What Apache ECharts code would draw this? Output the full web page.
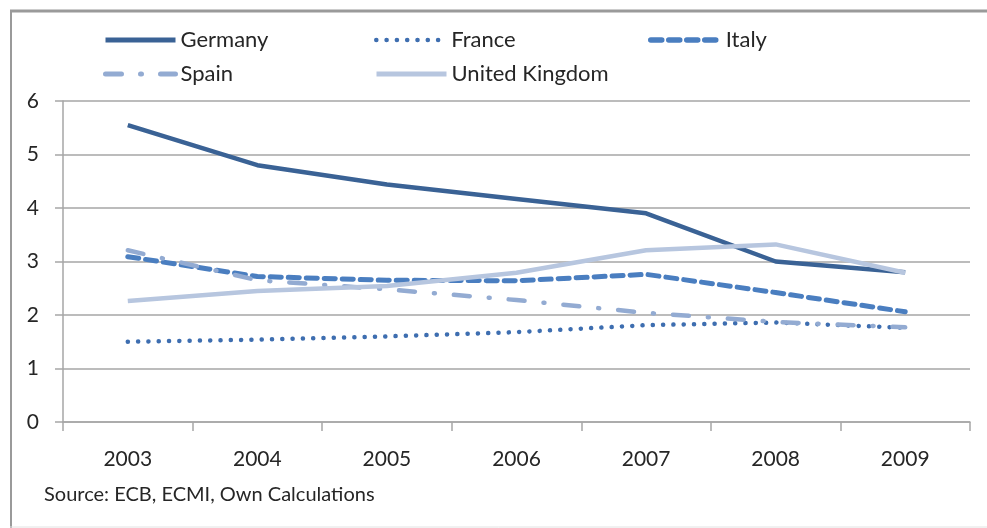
<!DOCTYPE html>
<html>
<head>
<meta charset="utf-8">
<script src="https://cdn.jsdelivr.net/npm/echarts@6/dist/echarts.min.js"></script>
<style>
  html, body { margin: 0; padding: 0; background: #fff; }
  #chart { width: 987px; height: 528px; }
</style>
</head>
<body>
<div id="chart"></div>
<script>
const years = ["2003", "2004", "2005", "2006", "2007", "2008", "2009"];
const germany = [5.55, 4.8, 4.44, 4.17, 3.9, 3.0, 2.8];
const france = [1.5, 1.54, 1.6, 1.68, 1.81, 1.86, 1.76];
const italy = [3.09, 2.72, 2.65, 2.64, 2.76, 2.42, 2.06];
const spain = [3.21, 2.65, 2.48, 2.28, 2.04, 1.87, 1.77];
const uk = [2.26, 2.45, 2.54, 2.79, 3.21, 3.32, 2.79];

const font = "Lato";
const gridColor = "#a6a6a6";

// one legend per entry so each can sit where the original puts it
const legendAt = (name, left, top, width) => ({
  data: [name],
  left: left,
  top: top,
  padding: 0,
  itemWidth: 70,
  itemHeight: 14,
  itemGap: 0,
  itemStyle: { opacity: 0 },
  lineStyle: { width: width },
  textStyle: { fontFamily: font, fontSize: 22, color: "#262626" },
  selectedMode: false,
});

const line = (name, data, color, width, type, cap) => ({
  name: name,
  type: "line",
  data: data,
  symbol: "none",
  showSymbol: false,
  lineStyle: { color: color, width: width, type: type, cap: cap || "butt" },
  itemStyle: { color: color },
});

const chart = echarts.init(document.getElementById("chart"));
chart.setOption({
  animation: false,
  backgroundColor: "#fff",
  legend: [
    legendAt("Germany", 103, 29, 5),
    legendAt("France", 374, 29, 4.5),
    legendAt("Italy", 648, 29, 5.5),
    legendAt("Spain", 103, 63, 5),
    legendAt("United Kingdom", 374, 63, 5),
  ],
  grid: { left: 63, right: 17, top: 101, bottom: 106 },
  xAxis: {
    type: "category",
    data: years,
    boundaryGap: true,
    axisLine: { lineStyle: { color: gridColor, width: 1.5 } },
    axisTick: { show: true, length: 9, lineStyle: { color: gridColor, width: 1.5 } },
    axisLabel: { fontFamily: font, fontSize: 21, color: "#262626", margin: 27 },
  },
  yAxis: {
    type: "value",
    min: 0,
    max: 6,
    interval: 1,
    axisLine: { show: true, lineStyle: { color: gridColor, width: 1.5 } },
    axisTick: { show: true, length: 8, lineStyle: { color: gridColor, width: 1.5 } },
    axisLabel: { fontFamily: font, fontSize: 21, color: "#262626", margin: 24 },
    splitLine: { lineStyle: { color: gridColor, width: 1.5 } },
  },
  series: [
    line("Germany", germany, "#3a6295", 4.5),
    line("France", france, "#3e6eb0", 4.5, [0.1, 10.2], "round"),
    line("Italy", italy, "#4a7ec0", 5, [11, 7], "round"),
    line("Spain", spain, "#93abd2", 4.5, [16, 19, 1, 19], "round"),
    line("United Kingdom", uk, "#b7c6df", 4.5),
  ],
  graphic: [
    { type: "line", shape: { x1: 10, y1: 11, x2: 987, y2: 11 }, style: { stroke: "#9a9a9a", lineWidth: 3 } },
    { type: "line", shape: { x1: 11, y1: 10, x2: 11, y2: 528 }, style: { stroke: "#9a9a9a", lineWidth: 2 } },
    { type: "line", shape: { x1: 10, y1: 527, x2: 987, y2: 527 }, style: { stroke: "#e2e2e2", lineWidth: 1 } },
    {
      type: "text",
      left: 44,
      top: 485,
      style: { text: "Source: ECB, ECMI, Own Calculations", font: "20px Lato", fill: "#262626" },
    },
  ],
});
</script>
</body>
</html>
